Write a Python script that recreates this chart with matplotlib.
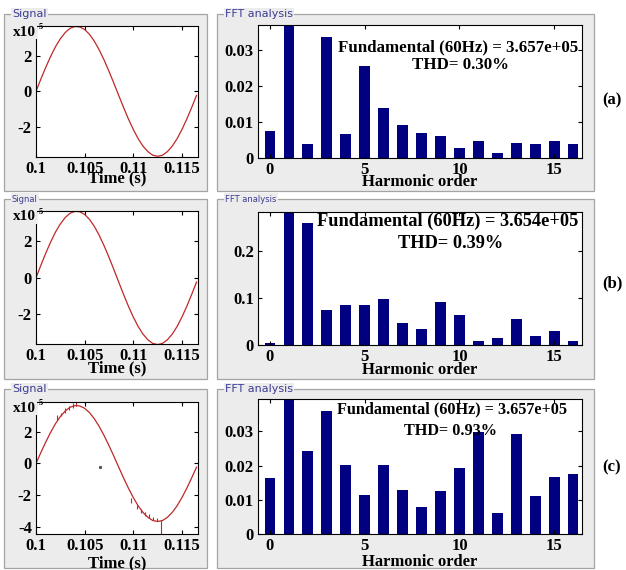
import matplotlib
matplotlib.use('Agg')
import matplotlib.pyplot as plt
from matplotlib.patches import Rectangle

W, H = 626, 570

# signal, in units of 1e5
t_sig = [0.1000, 0.1005, 0.1010, 0.1015, 0.1020, 0.1025, 0.1030, 0.1035, 0.1040,
         0.1045, 0.1050, 0.1055, 0.1060, 0.1065, 0.1070, 0.1075, 0.1080, 0.1085,
         0.1090, 0.1095, 0.1100, 0.1105, 0.1110, 0.1115, 0.1120, 0.1125, 0.1130,
         0.1135, 0.1140, 0.1145, 0.1150, 0.1155, 0.1160, 0.1165]
v_sig = [0.00, 0.69, 1.35, 1.96, 2.51, 2.96, 3.31, 3.55, 3.65,
         3.63, 3.48, 3.21, 2.82, 2.33, 1.76, 1.13, 0.46, -0.23,
         -0.91, -1.56, -2.15, -2.67, -3.09, -3.40, -3.60, -3.66, -3.60,
         -3.40, -3.09, -2.67, -2.15, -1.56, -0.91, -0.23]

# glitches on the third signal (time, low, high)
glitch_t = [0.1022, 0.1026, 0.1030, 0.1034, 0.1038, 0.1041,
            0.1098, 0.1104, 0.1108, 0.1112, 0.1116, 0.1120, 0.1124, 0.1128]
glitch_lo = [2.75, 3.0, 3.2, 3.35, 3.5, 3.6,
             -2.5, -2.85, -3.1, -3.3, -3.45, -3.55, -3.6, -4.45]
glitch_hi = [3.05, 3.2, 3.5, 3.65, 3.8, 3.85,
             -2.2, -2.6, -2.85, -3.05, -3.2, -3.35, -3.45, -3.55]
dot_t, dot_v = [0.1066], [-0.25]

# FFT bars, harmonic 1 is the fundamental (100 %), clipped by the axis
harm = list(range(17))
fft_a = [0.0076, 100, 0.0039, 0.0337, 0.0066, 0.0254, 0.0139, 0.0092, 0.0069,
         0.0062, 0.0028, 0.0046, 0.0013, 0.0041, 0.0039, 0.0046, 0.0039]
fft_b = [0.004, 100, 0.260, 0.075, 0.085, 0.085, 0.099, 0.046, 0.034,
         0.092, 0.064, 0.009, 0.015, 0.055, 0.020, 0.030, 0.009]
fft_c = [0.0164, 100, 0.0243, 0.0361, 0.0201, 0.0115, 0.0203, 0.0128, 0.0079,
         0.0126, 0.0193, 0.0298, 0.0062, 0.0292, 0.0110, 0.0168, 0.0177]

fund = ['3.657e+05', '3.654e+05', '3.657e+05']
thd = ['0.30%', '0.39%', '0.93%']
tags = ['(a)', '(b)', '(c)']

# layout of each row, in pixels
rows = [
    dict(panel=(14, 191), sig=(26, 157), fft=(25, 158), ylim=(-3.7, 3.68), yt=[-2, 0, 2],
         fmax=0.0369, fyt=[0, 0.01, 0.02, 0.03], fyl=['0', '0.01', '0.02', '0.03'],
         lab=8, txt=12.2, tx=0.618, ty=(0.83, 0.70), toff=21, hoff=24, tagy=100),
    dict(panel=(199, 379), sig=(211, 344), fft=(212, 345), ylim=(-3.63, 3.67), yt=[-2, 0, 2],
         fmax=0.284, fyt=[0, 0.1, 0.2], fyl=['0', '0.1', '0.2'],
         lab=6, txt=13.2, tx=0.585, ty=(0.93, 0.76), toff=24, hoff=25, tagy=283),
    dict(panel=(389, 568), sig=(402, 534), fft=(399, 534), ylim=(-4.45, 3.88), yt=[-4, -2, 0, 2],
         fmax=0.0395, fyt=[0, 0.01, 0.02, 0.03], fyl=['0', '0.01', '0.02', '0.03'],
         lab=8, txt=11.7, tx=0.60, ty=(0.926, 0.763), toff=29, hoff=28, tagy=467),
]
ffts = [fft_a, fft_b, fft_c]

plt.rcParams['font.family'] = ['Liberation Serif', 'DejaVu Serif']
plt.rcParams['font.weight'] = 'bold'

fig = plt.figure(figsize=(W / 100, H / 100), dpi=100, facecolor='white')

PANEL = '#ececec'
RED = '#c02828'


def panel(x0, y0, x1, y1, label, fs):
    fig.add_artist(Rectangle((x0 / W, 1 - y1 / H), (x1 - x0) / W, (y1 - y0) / H,
                             transform=fig.transFigure, facecolor=PANEL,
                             edgecolor='#a4a4a4', lw=0.9, zorder=0))
    fig.text((x0 + 8) / W, 1 - y0 / H, label, fontsize=fs, color='#3c3c96',
             family='DejaVu Sans', weight='normal', va='center', ha='left',
             bbox=dict(facecolor=PANEL, edgecolor='none', pad=1), zorder=1)


def add_ax(x0, y0, x1, y1):
    ax = fig.add_axes([x0 / W, 1 - y1 / H, (x1 - x0) / W, (y1 - y0) / H])
    ax.set_facecolor('white')
    ax.tick_params(direction='in', length=3, top=True, right=True,
                   labelsize=12, pad=3)
    for s in ax.spines.values():
        s.set_linewidth(0.8)
    return ax


for i, r in enumerate(rows):
    py0, py1 = r['panel']
    panel(4, py0, 207, py1, 'Signal', r['lab'])
    panel(217, py0, 594, py1, 'FFT analysis', r['lab'])

    # signal
    ax = add_ax(36, r['sig'][0], 198, r['sig'][1])
    ax.plot(t_sig, v_sig, color=RED, lw=0.9)
    if i == 2:
        ax.vlines(glitch_t, glitch_lo, glitch_hi, color=RED, lw=0.8)
        ax.plot(dot_t, dot_v, 's', ms=1.2, color='#555555')
    ax.set_xlim(0.1, 0.11665)
    ax.set_ylim(*r['ylim'])
    ax.set_xticks([0.1, 0.105, 0.11, 0.115])
    ax.set_xticklabels(['0.1', '0.105', '0.11', '0.115'])
    ax.set_yticks(r['yt'])
    ax.set_yticklabels([str(v) for v in r['yt']])
    ax.annotate('Time (s)', xy=(0.5, 0), xycoords='axes fraction',
                xytext=(0, -r['toff'] * 0.72), textcoords='offset points',
                ha='center', va='center', fontsize=12)
    ax.annotate('x10', xy=(0, 1), xycoords='axes fraction', xytext=(-23 * 0.72, -6 * 0.72),
                textcoords='offset points', ha='left', va='center', fontsize=11,
                bbox=dict(facecolor=PANEL, edgecolor='none', pad=0.5), annotation_clip=False)
    ax.annotate('5', xy=(0, 1), xycoords='axes fraction', xytext=(3 * 0.72, -1 * 0.72),
                textcoords='offset points', ha='left', va='center', fontsize=6,
                annotation_clip=False)

    # FFT
    ax = add_ax(258, r['fft'][0], 582, r['fft'][1])
    ax.bar(harm, ffts[i], width=0.55, color='#000080')
    ax.set_xlim(-0.62, 16.46)
    ax.set_ylim(0, r['fmax'])
    ax.set_xticks([0, 5, 10, 15])
    ax.set_yticks(r['fyt'])
    ax.set_yticklabels(r['fyl'])
    ax.annotate('Harmonic order', xy=(0.5, 0), xycoords='axes fraction',
                xytext=(0, -r['hoff'] * 0.72), textcoords='offset points',
                ha='center', va='center', fontsize=12)
    ax.text(r['tx'], r['ty'][0], 'Fundamental (60Hz) = ' + fund[i], transform=ax.transAxes,
            ha='center', va='center', fontsize=r['txt'])
    ax.text(0.625 if i == 0 else 0.595, r['ty'][1], 'THD= ' + thd[i], transform=ax.transAxes,
            ha='center', va='center', fontsize=r['txt'])

    fig.text(612 / W, 1 - r['tagy'] / H, tags[i], ha='center', va='center', fontsize=12)

fig.savefig('out.png', dpi=100, facecolor='white')
